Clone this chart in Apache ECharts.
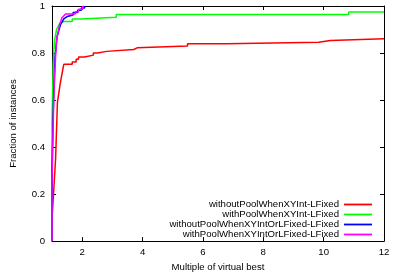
<!DOCTYPE html>
<html><head><meta charset="utf-8">
<script src="https://cdn.jsdelivr.net/npm/echarts@6/dist/echarts.min.js"></script>
<style>html,body{margin:0;padding:0;background:#fff}#c{width:393px;height:277px}</style>
</head><body><div id="c"></div>
<script>
var seriesNames = ['withoutPoolWhenXYInt-LFixed','withPoolWhenXYInt-LFixed','withoutPoolWhenXYIntOrLFixed-LFixed','withPoolWhenXYIntOrLFixed-LFixed'];
var seriesColors = ['#ff0000','#00ff00','#0000ff','#ff00ff'];
var xTicks = [2,4,6,8,10,12];
var yTicks = [0,0.2,0.4,0.6,0.8,1];
var redData = [[1,0.1],[1.03,0.157],[1.12,0.353],[1.18,0.59],[1.28,0.676],[1.39,0.752],[1.67,0.752],[1.67,0.762],[1.8,0.762],[1.8,0.773],[1.88,0.773],[1.88,0.783],[2.08,0.783],[2.08,0.791],[2.37,0.791],[2.37,0.8],[2.51,0.8],[2.51,0.807],[2.81,0.807],[2.81,0.815],[3.71,0.815],[3.71,0.822],[3.82,0.822],[3.82,0.83],[5.49,0.83],[5.49,0.839],[6.78,0.839],[6.78,0.846],[9.84,0.846],[9.84,0.853],[10.22,0.853],[10.22,0.861],[12,0.861]];
var greenData = [[1,0],[1,0.5],[1.04,0.75],[1.08,0.85],[1.15,0.9],[1.25,0.925],[1.39,0.934],[1.67,0.934],[1.67,0.945],[1.97,0.945],[1.97,0.952],[3.13,0.952],[3.13,0.964],[10.83,0.964],[10.83,0.975],[12,0.975]];
var blueData = [[1,0],[1,0.3],[1.05,0.6],[1.1,0.78],[1.17,0.87],[1.28,0.92],[1.39,0.945],[1.5,0.955],[1.5,0.962],[1.7,0.962],[1.7,0.972],[1.85,0.972],[1.85,0.982],[1.97,0.982],[1.97,0.992],[2.08,0.992],[2.08,1.0]];
var magentaData = [[1,0],[1,0.25],[1.04,0.5],[1.07,0.647],[1.12,0.787],[1.15,0.857],[1.25,0.92],[1.33,0.95],[1.45,0.966],[1.77,0.966],[1.77,0.976],[1.88,0.976],[1.88,0.986],[2.01,0.986],[2.01,0.997],[2.06,1.0]];
var allData = [redData, greenData, blueData, magentaData];

var font = 'Liberation Sans, Arial, sans-serif';
var fs = 9.6;
var chart = echarts.init(document.getElementById('c'), null, {renderer:'canvas'});
function xAx(pos, show){
  return {type:'value', position:pos, min:1, max:12,
    axisLine:{show:true, onZero:false, lineStyle:{color:'#000', width:1}},
    axisTick:{show:true, inside:true, length:4, customValues:xTicks, lineStyle:{color:'#000'}},
    axisLabel:{show:show, customValues:xTicks, color:'#000', fontSize:fs, fontFamily:font, margin:6},
    splitLine:{show:false},
    name: show ? 'Multiple of virtual best' : '', nameLocation:'middle', nameGap:20,
    nameTextStyle:{color:'#000', fontSize:fs, fontFamily:font}};
}
function yAx(pos, show){
  return {type:'value', position:pos, min:0, max:1, interval:0.2,
    axisLine:{show:true, onZero:false, lineStyle:{color:'#000', width:1}},
    axisTick:{show:true, inside:true, length:4, lineStyle:{color:'#000'}},
    axisLabel:{show:show, color:'#000', fontSize:fs, fontFamily:font, margin:7,
      formatter:function(v){return String(Math.round(v*10)/10);}},
    splitLine:{show:false},
    name: show ? 'Fraction of instances' : '', nameLocation:'middle', nameGap:34, nameRotate:90,
    nameTextStyle:{color:'#000', fontSize:fs, fontFamily:font}};
}
var series = allData.map(function(d,i){
  return {name:seriesNames[i], type:'line', data:d, xAxisIndex:0, yAxisIndex:0,
    showSymbol:false, symbol:'none', lineStyle:{color:seriesColors[i], width:1.5},
    itemStyle:{color:seriesColors[i]}, animation:false, z:2+i};
});
chart.setOption({
  animation:false,
  grid:{left:47, right:9, top:6, bottom:33},
  xAxis:[xAx('bottom', true), xAx('top', false)],
  yAxis:[yAx('left', true), yAx('right', false)],
  legend:{orient:'vertical', right:21, bottom:37.5, padding:0, align:'right', itemGap:0, itemWidth:28, itemHeight:8,
    icon:'path://M0,3.5 L28,3.5 L28,5.3 L0,5.3 Z',
    textStyle:{color:'#000', fontSize:fs, fontFamily:font, width:150, align:'right', lineHeight:9.2, padding:[0,0,0,0]},
    data:seriesNames},
  series:series
});
</script></body></html>
